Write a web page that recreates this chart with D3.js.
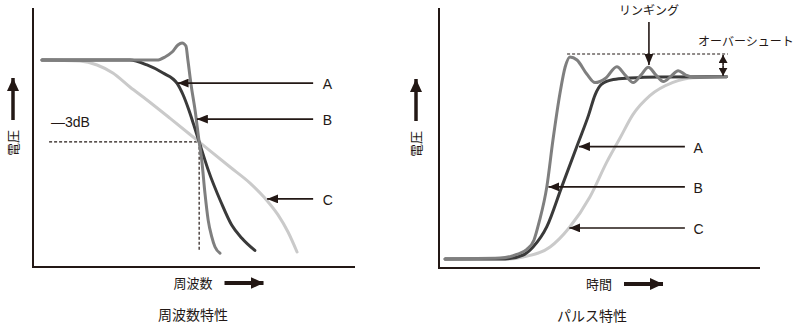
<!DOCTYPE html>
<html>
<head>
<meta charset="utf-8">
<script src="https://cdn.jsdelivr.net/npm/d3@7"></script>
<style>
  body { margin: 0; background: #fff; }
  svg { display: block; }
  text { font-family: "Noto Sans CJK JP", "Noto Sans", sans-serif; fill: #231815; }
  .lat { font-family: "Liberation Sans", Arial, sans-serif; }
</style>
</head>
<body>
<svg id="chart" width="800" height="324"></svg>
<script>
// frequency response (left), x = frequency, y = voltage (0-100)
var freqA = [[2.8,79.9],[30.1,79.9],[35.4,78.0],[40.4,74.9],[44.7,71.0],[46.6,66.5],[48.3,61.0],[49.9,55.0],[51.6,48.3],[54.4,37.5],[58.4,25.0],[61.7,16.2],[64.8,11.2],[68.9,6.4]];
var freqB = [[2.8,79.9],[38.5,79.9],[41.0,81.1],[43.2,83.0],[45.0,85.7],[46.3,86.5],[47.5,85.3],[48.1,79.9],[49.1,70.3],[50.4,60.0],[51.6,48.3],[52.4,41.3],[53.4,28.5],[54.4,18.1],[55.5,11.7],[56.5,7.8],[58.1,5.3]];
var freqC = [[2.8,79.9],[14.6,79.5],[19.9,78.0],[24.8,74.9],[30.1,69.5],[35.4,64.5],[42.5,57.5],[51.6,48.3],[61.2,38.6],[67.4,32.4],[72.0,26.6],[76.1,20.1],[79.2,13.5],[82.0,5.8]];

// pulse response (right), x = time, y = voltage (0-100)
var pulseA = [[1.9,3.5],[20.6,3.5],[26.2,5.0],[29.3,8.1],[33.6,15.9],[38.2,31.1],[43.2,47.6],[46.6,58.8],[48.6,66.5],[50.6,70.6],[54.3,72.5],[59.5,73.1],[68.8,73.5],[89.6,73.6]];
var pulseB = [[1.9,3.5],[19.0,3.8],[24.2,5.2],[27.4,7.2],[29.6,10.8],[31.2,17.7],[33.6,31.3],[35.5,49.2],[37.7,67.3],[39.3,77.3],[40.8,81.2],[43.0,80.0],[46.1,74.5],[48.6,71.3],[52.0,73.1],[55.4,77.4],[58.0,74.2],[60.5,71.3],[62.9,74.2],[65.2,77.2],[67.6,74.2],[69.9,71.7],[72.3,73.8],[74.5,75.9],[76.9,74.2],[79.2,73.3],[89.6,73.6]];
var pulseC = [[1.9,3.5],[22.1,3.5],[26.2,4.2],[34.6,8.1],[40.5,15.4],[47.0,27.3],[52.3,40.8],[56.4,50.0],[60.4,59.0],[65.7,66.3],[72.9,71.4],[79.1,73.2],[89.6,73.6]];

var labels = ["A", "B", "C"];
var freqTips = [[44.9,71.0],[50.9,57.1],[72.7,26.3]];
var pulseTips = [[43.6,46.7],[34.1,31.2],[40.6,15.4]];
var cutoff = [51.6, 48.3];
var settle = 73.6, overshoot = 82.3;

var colors = {A: "#3a3a3a", B: "#7f7f7f", C: "#cacaca"};
var ink = "#231815";

var svg = d3.select("#chart");
var defs = svg.append("defs");
function marker(id, w, l) {
  defs.append("marker")
    .attr("id", id)
    .attr("markerUnits", "userSpaceOnUse")
    .attr("viewBox", "0 0 " + l + " " + w)
    .attr("refX", l).attr("refY", w / 2)
    .attr("markerWidth", l).attr("markerHeight", w)
    .attr("orient", "auto")
    .append("path")
    .attr("d", "M0,0L" + l + "," + (w / 2) + "L0," + w + "Z")
    .attr("fill", ink);
}
marker("head", 9, 11);
marker("big", 12, 13);
marker("small", 9, 8);

function arrow(x1, y1, x2, y2, w, m) {
  return svg.append("line")
    .attr("x1", x1).attr("y1", y1).attr("x2", x2).attr("y2", y2)
    .attr("stroke", ink).attr("stroke-width", w)
    .attr("marker-end", "url(#" + m + ")");
}

function panel(x0, x1, y0, y1, yOff, xName, labelX, title, titleX) {
  var x = d3.scaleLinear().domain([0, 100]).range([x0, x1]);
  var y = d3.scaleLinear().domain([0, 100]).range([y0, y1]);
  // axes
  svg.append("path")
    .attr("d", "M" + x(0) + "," + y(100) + "V" + y(0) + "H" + x(100))
    .attr("fill", "none").attr("stroke", ink).attr("stroke-width", 2);
  // y label
  arrow(x0 - yOff, y0 - 147, x0 - yOff, y0 - 189, 3.5, "big");
  svg.append("text")
    .attr("transform", "translate(" + (x0 - yOff + 5) + "," + (y0 - 124) + ") rotate(-90)")
    .attr("text-anchor", "middle").attr("font-size", 13).text("電圧");
  // x label
  var t = svg.append("text").attr("x", labelX).attr("y", y0 + 21)
    .attr("text-anchor", "middle").attr("font-size", 13).text(xName);
  var half = t.node().getComputedTextLength() / 2;
  arrow(labelX + half + 12, y0 + 16, labelX + half + 51, y0 + 16, 4, "big");
  svg.append("text").attr("x", titleX).attr("y", y0 + 53)
    .attr("text-anchor", "middle").attr("font-size", 14).text(title);
  return {x: x, y: y};
}

function curves(p, sets) {
  var line = d3.line()
    .x(function (d) { return p.x(d[0]); })
    .y(function (d) { return p.y(d[1]); })
    .curve(d3.curveMonotoneX);
  // light first so the darker ones sit on top
  ["C", "A", "B"].forEach(function (k) {
    svg.append("path")
      .datum(sets[k])
      .attr("d", line)
      .attr("fill", "none")
      .attr("stroke", colors[k])
      .attr("stroke-width", 3)
      .attr("stroke-linejoin", "round")
      .attr("stroke-linecap", "round");
  });
}

function pointers(p, tips, tailX, labelX) {
  tips.forEach(function (t, i) {
    arrow(p.x(tailX), p.y(t[1]), p.x(t[0]), p.y(t[1]), 1.6, "head");
    svg.append("text").attr("class", "lat")
      .attr("x", p.x(labelX)).attr("y", p.y(t[1]) + 6)
      .attr("font-size", 14).text(labels[i]);
  });
}

// ----- 周波数特性 -----
var L = panel(33, 355, 267, 8, 20, "周波数", 193, "周波数特性", 193);
svg.append("path")
  .attr("d", "M" + L.x(5) + "," + L.y(cutoff[1]) + "H" + L.x(cutoff[0]) + "V" + L.y(6.6))
  .attr("fill", "none").attr("stroke", ink).attr("stroke-width", 1.2)
  .attr("stroke-dasharray", "3,2");
svg.append("text").attr("class", "lat")
  .attr("x", L.x(5.6)).attr("y", L.y(54.1))
  .attr("font-size", 14).text("—3dB");
curves(L, {A: freqA, B: freqB, C: freqC});
pointers(L, freqTips, 87, 90.0);

// ----- パルス特性 -----
var R = panel(439, 760, 268, 8, 23, "時間", 599, "パルス特性", 592);
svg.append("line")
  .attr("x1", R.x(39.9)).attr("x2", R.x(90)).attr("y1", R.y(overshoot)).attr("y2", R.y(overshoot))
  .attr("stroke", ink).attr("stroke-width", 1.2).attr("stroke-dasharray", "3,2");
curves(R, {A: pulseA, B: pulseB, C: pulseC});
pointers(R, pulseTips, 76.6, 79.3);
// overshoot double arrow
var mid = (overshoot + settle) / 2;
arrow(R.x(88.5), R.y(mid), R.x(88.5), R.y(overshoot) + 1, 1.6, "small");
arrow(R.x(88.5), R.y(mid), R.x(88.5), R.y(settle) - 1, 1.6, "small");
svg.append("text")
  .attr("x", R.x(80.7)).attr("y", R.y(85.4))
  .attr("font-size", 12).text("オーバーシュート");
// ringing arrow
arrow(R.x(65.4), R.y(94.6), R.x(65.4), R.y(78.1), 1.6, "head");
svg.append("text")
  .attr("x", R.x(65.4)).attr("y", R.y(97.2))
  .attr("text-anchor", "middle").attr("font-size", 12).text("リンギング");
</script>
</body>
</html>
